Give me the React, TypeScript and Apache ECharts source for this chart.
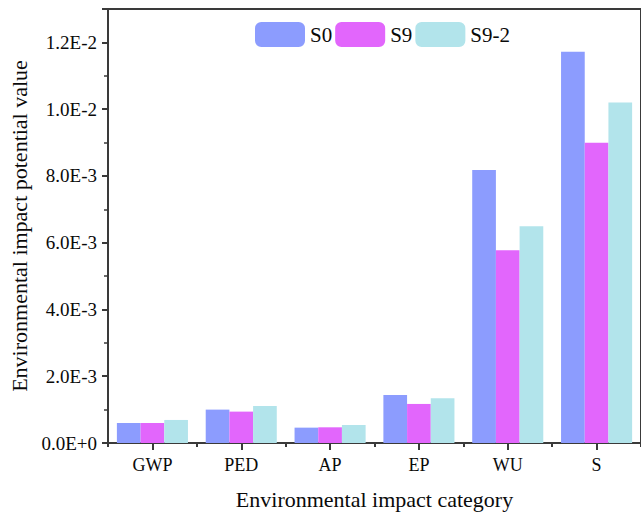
import React, { useEffect, useRef } from "react";
import * as echarts from "echarts";

const categories = ["GWP", "PED", "AP", "EP", "WU", "S"];
const seriesNames = ["S0", "S9", "S9-2"];
const s0Values = [0.0006, 0.001, 0.00046, 0.00144, 0.00818, 0.01172];
const s9Values = [0.0006, 0.00094, 0.00047, 0.00117, 0.00577, 0.00899];
const s92Values = [0.00069, 0.00111, 0.00054, 0.00134, 0.00649, 0.0102];
const colors = ["#8c9cfe", "#e266fc", "#b2e4eb"];

const FONT = "'Liberation Serif', 'Times New Roman', serif";
const AXIS_COLOR = "#3a3a3a";
const TEXT_COLOR = "#0a0a0a";

export default function App() {
  const ref = useRef<HTMLDivElement>(null);
  useEffect(() => {
    if (!ref.current) return;
    const chart = echarts.init(ref.current, null, { renderer: "svg" });
    const values = [s0Values, s9Values, s92Values];
    chart.setOption({
      animation: false,
      backgroundColor: "#ffffff",
      textStyle: { fontFamily: FONT, color: TEXT_COLOR },
      grid: {
        left: 108,
        top: 9,
        right: -7,
        bottom: 73,
        show: true,
        borderColor: AXIS_COLOR,
        borderWidth: 2,
        backgroundColor: "transparent",
      },
      legend: {
        left: 250,
        top: 17,
        itemWidth: 50,
        itemHeight: 25,
        itemGap: 3,
        data: seriesNames,
        textStyle: { fontFamily: FONT, fontSize: 21, color: TEXT_COLOR },
      },
      xAxis: [
        {
          type: "category",
          data: categories,
          position: "bottom",
          name: "Environmental impact category",
          nameLocation: "middle",
          nameGap: 45,
          nameTextStyle: { fontFamily: FONT, fontSize: 22, color: TEXT_COLOR },
          axisLine: { show: true, lineStyle: { color: AXIS_COLOR, width: 2 } },
          axisTick: { show: true, alignWithLabel: true, length: 7, lineStyle: { color: AXIS_COLOR, width: 2 } },
          axisLabel: { fontFamily: FONT, fontSize: 18, color: TEXT_COLOR, margin: 13 },
          splitLine: { show: false },
        },
        {
          type: "category",
          data: categories,
          position: "bottom",
          axisLine: { show: false },
          axisTick: { show: true, alignWithLabel: false, length: 4, lineStyle: { color: AXIS_COLOR, width: 2 } },
          axisLabel: { show: false },
          splitLine: { show: false },
        },
      ],
      yAxis: {
        type: "value",
        min: 0,
        max: 0.013,
        interval: 0.002,
        name: "Environmental impact potential value",
        nameLocation: "middle",
        nameGap: 75,
        nameTextStyle: { fontFamily: FONT, fontSize: 22, color: TEXT_COLOR },
        axisLine: { show: true, lineStyle: { color: AXIS_COLOR, width: 2 } },
        axisTick: { show: true, length: 6, lineStyle: { color: AXIS_COLOR, width: 2 } },
        minorTick: { show: true, splitNumber: 2, length: 4, lineStyle: { color: AXIS_COLOR, width: 1.5 } },
        axisLabel: {
          fontFamily: FONT,
          fontSize: 19,
          color: TEXT_COLOR,
          margin: 11,
          showMaxLabel: false,
          formatter: (v: number) => v.toExponential(1).replace("e", "E"),
        },
        splitLine: { show: false },
        minorSplitLine: { show: false },
      },
      series: seriesNames.map((name, i) => ({
        name,
        type: "bar",
        xAxisIndex: 0,
        data: values[i],
        barGap: "0%",
        barCategoryGap: "20%",
        itemStyle: { color: colors[i] },
      })),
    });
    return () => chart.dispose();
  }, []);
  return (
    <div
      ref={ref}
      style={{ position: "fixed", left: 0, top: 0, width: 641, height: 516, overflow: "hidden" }}
    />
  );
}
